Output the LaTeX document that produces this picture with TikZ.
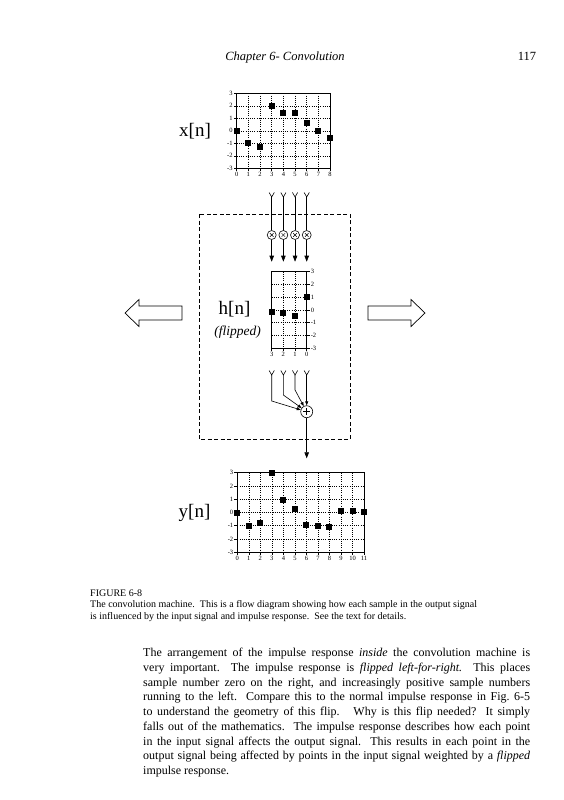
\documentclass[tikz,border=0pt]{standalone}
\usepackage{fontspec}
\setmainfont{Liberation Serif}
\usetikzlibrary{arrows.meta}
\newcommand\tlfont{\fontsize{6.5}{7}\selectfont}
\begin{document}
\begin{tikzpicture}[x=1pt,y=-1pt,
  frame/.style={line width=0.7pt},
  gridln/.style={line width=0.6pt, dash pattern=on 0.8pt off 1.4pt},
  tickln/.style={line width=0.6pt},
  ticklab/.style={font=\tlfont, inner sep=0.8pt},
  sample/.style={rectangle, fill=black, minimum size=6pt, inner sep=0pt},
  flow/.style={line width=0.6pt},
  tipA/.style={-{Triangle[length=6pt,width=4.5pt]}},
  tipB/.style={-{Triangle[length=4pt,width=3pt]}},
  mult/.style={circle, draw, fill=white, line width=0.6pt, minimum size=9pt, inner sep=0pt,
    path picture={\draw[line width=0.45pt]
      ([xshift=-1.8pt,yshift=-1.8pt]path picture bounding box.center) -- ([xshift=1.8pt,yshift=1.8pt]path picture bounding box.center)
      ([xshift=-1.8pt,yshift=1.8pt]path picture bounding box.center) -- ([xshift=1.8pt,yshift=-1.8pt]path picture bounding box.center);}},
  adder/.style={circle, draw, fill=white, line width=0.6pt, minimum size=12pt, inner sep=0pt,
    path picture={\draw[line width=0.5pt]
      ([xshift=-3.5pt]path picture bounding box.center) -- ([xshift=3.5pt]path picture bounding box.center)
      ([yshift=-3.5pt]path picture bounding box.center) -- ([yshift=3.5pt]path picture bounding box.center);}},
  biglab/.style={font=\fontsize{19}{22}\selectfont, inner sep=0pt},
  flab/.style={font=\fontsize{13.5}{16}\selectfont\itshape, inner sep=0pt},
  machine/.style={line width=0.9pt, dash pattern=on 4pt off 2.5pt},
  blockarrow/.style={draw, line width=0.7pt, fill=white},
  hdr/.style={anchor=base, inner sep=0pt, font=\fontsize{12.5}{14}\selectfont},
  capline/.style={anchor=base west, inner sep=0pt, font=\fontsize{10}{12}\selectfont\frenchspacing},
  bodyline/.style={anchor=base west, inner sep=0pt, font=\fontsize{12}{14.75}\selectfont\frenchspacing}
]
\useasboundingbox (0,0) rectangle (563,800);
\fill[white] (0,0) rectangle (563,800);

% header
\node[hdr] (htitle) at (285,61) {\itshape Chapter 6- Convolution};
\node[hdr] (hpage) at (527,61) {117};

% ---------- x[n] graph ----------
\def\PxO{236.7}\def\PxD{11.67}\def\PxZ{130.8}\def\PxU{12.5}
\foreach \i in {1,...,7} \draw[gridln] ({\PxO+\i*\PxD},{\PxZ-3*\PxU}) -- ({\PxO+\i*\PxD},{\PxZ+3*\PxU});
\foreach \j in {-2,...,2} \draw[gridln] ({\PxO},{\PxZ-\j*\PxU}) -- ({\PxO+8*\PxD},{\PxZ-\j*\PxU});
\draw[frame] ({\PxO},{\PxZ-3*\PxU}) rectangle ({\PxO+8*\PxD},{\PxZ+3*\PxU});
\foreach \j in {-3,...,3} \draw[tickln] ({\PxO},{\PxZ-\j*\PxU}) -- ++(-3,0) node[left,ticklab] {\j};
\foreach \i in {0,...,8} \draw[tickln] ({\PxO+\i*\PxD},{\PxZ+3*\PxU}) -- ++(0,3) node[below,ticklab] {\i};
\foreach \v [count=\c from 0] in {0,-1,-1.3,2,1.44,1.44,0.59,0,-0.56}
  \node[sample] (xs\c) at ({\PxO+\c*\PxD},{\PxZ-\v*\PxU}) {};
\node[biglab] (xlab) at (195,130.7) {x[n]};

% ---------- convolution machine ----------
\draw[machine] (199,214) rectangle (350,439.3);

\foreach \k in {0,...,3} {
  \pgfmathsetmacro\cx{271.7+\k*11.67}
  \coordinate (ft\k) at (\cx,197);
  \coordinate (mt\k) at (\cx,261.7);
  \node[mult] (m\k) at (\cx,235) {};
  \draw[flow] ([xshift=-2.6pt,yshift=4.5pt]ft\k) -- (ft\k) -- ([xshift=2.6pt,yshift=4.5pt]ft\k);
  \draw[flow] (ft\k) -- (m\k);
  \draw[flow,tipA] (m\k) -- (mt\k);
}

% h[n] graph (flipped)
\def\PhO{271.7}\def\PhD{11.67}\def\PhZ{310}\def\PhU{12.78}
\foreach \i in {1,2} \draw[gridln] ({\PhO+\i*\PhD},{\PhZ-3*\PhU}) -- ({\PhO+\i*\PhD},{\PhZ+3*\PhU});
\foreach \j in {-2,...,2} \draw[gridln] ({\PhO},{\PhZ-\j*\PhU}) -- ({\PhO+3*\PhD},{\PhZ-\j*\PhU});
\draw[frame] ({\PhO},{\PhZ-3*\PhU}) rectangle ({\PhO+3*\PhD},{\PhZ+3*\PhU});
\foreach \j in {-3,...,3} \draw[tickln] ({\PhO+3*\PhD},{\PhZ-\j*\PhU}) -- ++(3,0) node[right,ticklab] {\j};
\foreach \i/\t in {0/3,1/2,2/1,3/0} \draw[tickln] ({\PhO+\i*\PhD},{\PhZ+3*\PhU}) -- ++(0,3) node[below,ticklab] {\t};
\foreach \v [count=\c from 0] in {-0.18,-0.26,-0.47,1.04}
  \node[sample] (hs\c) at ({\PhO+\c*\PhD},{\PhZ-\v*\PhU}) {};
\node[biglab] (hlab) at (234.5,309) {h[n]};
\node[flab] (flab) at (237.5,331.7) {(flipped)};

% adder
\node[adder] (add) at (306.7,411.7) {};
\foreach \k/\by in {0/401,1/395,2/390} {
  \pgfmathsetmacro\cx{271.7+\k*11.67}
  \coordinate (af\k) at (\cx,375);
  \coordinate (bd\k) at (\cx,\by);
  \draw[flow] ([xshift=-2.6pt,yshift=4.5pt]af\k) -- (af\k) -- ([xshift=2.6pt,yshift=4.5pt]af\k);
  \draw[flow,tipB] (af\k) -- (bd\k) -- (add);
}
\coordinate (af3) at (306.7,375);
\draw[flow] ([xshift=-2.6pt,yshift=4.5pt]af3) -- (af3) -- ([xshift=2.6pt,yshift=4.5pt]af3);
\draw[flow,tipB] (af3) -- (add);
\coordinate (yout) at (306.7,458.3);
\draw[flow,tipA] (add) -- (yout);

% block arrows
\draw[blockarrow] (125,313) -- (139,299.5) -- (139,306) -- (182,306) -- (182,320) -- (139,320) -- (139,326.5) -- cycle;
\draw[blockarrow] (368,306) -- (411,306) -- (411,299.5) -- (425,313) -- (411,326.5) -- (411,320) -- (368,320) -- cycle;

% ---------- y[n] graph ----------
\def\PyO{237.3}\def\PyD{11.52}\def\PyZ{512.5}\def\PyU{13.28}
\foreach \i in {1,...,10} \draw[gridln] ({\PyO+\i*\PyD},{\PyZ-3*\PyU}) -- ({\PyO+\i*\PyD},{\PyZ+3*\PyU});
\foreach \j in {-2,...,2} \draw[gridln] ({\PyO},{\PyZ-\j*\PyU}) -- ({\PyO+11*\PyD},{\PyZ-\j*\PyU});
\draw[frame] ({\PyO},{\PyZ-3*\PyU}) rectangle ({\PyO+11*\PyD},{\PyZ+3*\PyU});
\foreach \j in {-3,...,3} \draw[tickln] ({\PyO},{\PyZ-\j*\PyU}) -- ++(-3,0) node[left,ticklab] {\j};
\foreach \i in {0,...,11} \draw[tickln] ({\PyO+\i*\PyD},{\PyZ+3*\PyU}) -- ++(0,3) node[below,ticklab] {\i};
\foreach \v [count=\c from 0] in {0,-1,-0.82,2.95,0.94,0.24,-0.94,-1,-1.06,0.14,0.14,0.06}
  \node[sample] (ys\c) at ({\PyO+\c*\PyD},{\PyZ-\v*\PyU}) {};
\node[biglab] (ylab) at (194.5,513) {y[n]};

% ---------- caption ----------
\node[capline] (fig) at (90,596) {FIGURE 6-8};
\node[capline] (cap1) at (90,607.5) {The convolution machine.\ \ This is a flow diagram showing how each sample in the output signal};
\node[capline] (cap2) at (90,619) {is influenced by the input signal and impulse response.\ \ See the text for details.};

% ---------- body text ----------
\node[bodyline] (b1) at (143,656.5) {\makebox[387pt][s]{The arrangement of the impulse response \textit{inside} the convolution machine is}};
\node[bodyline] (b2) at (143,671.25) {\makebox[387pt][s]{very important.\ \ The impulse response is \textit{flipped left-for-right.}\ \ This places}};
\node[bodyline] (b3) at (143,686) {\makebox[387pt][s]{sample number zero on the right, and increasingly positive sample numbers}};
\node[bodyline] (b4) at (143,700.75) {\makebox[387pt][s]{running to the left.\ \ Compare this to the normal impulse response in Fig. 6-5}};
\node[bodyline] (b5) at (143,715.5) {\makebox[387pt][s]{to understand the geometry of this flip.\ \ \ Why is this flip needed?\ \ It simply}};
\node[bodyline] (b6) at (143,730.25) {\makebox[387pt][s]{falls out of the mathematics.\ \ The impulse response describes how each point}};
\node[bodyline] (b7) at (143,745) {\makebox[387pt][s]{in the input signal affects the output signal.\ \ This results in each point in the}};
\node[bodyline] (b8) at (143,759.75) {\makebox[387pt][s]{output signal being affected by points in the input signal weighted by a \textit{flipped}}};
\node[bodyline] (b9) at (143,774.5) {impulse response.};
\end{tikzpicture}
\end{document}
